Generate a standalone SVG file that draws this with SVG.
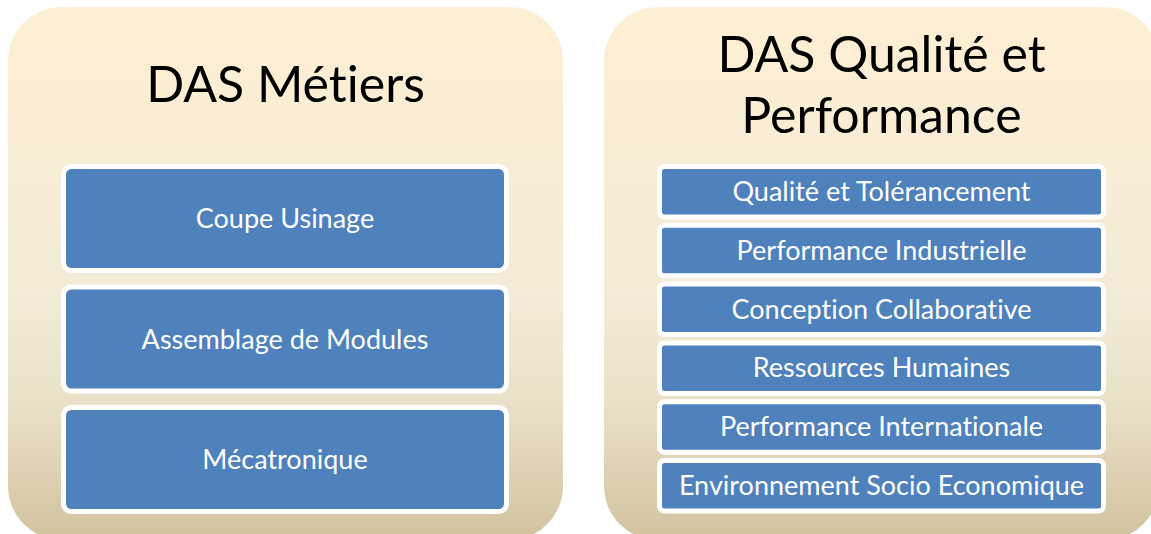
<svg xmlns="http://www.w3.org/2000/svg" width="1151" height="534" viewBox="0 0 1151 534">
  <defs>
    <linearGradient id="panelGrad" x1="0" y1="0" x2="0" y2="1">
      <stop offset="0" stop-color="#FDEFD3"/>
      <stop offset="0.55" stop-color="#F3EBD7"/>
      <stop offset="0.75" stop-color="#E9E0C7"/>
      <stop offset="1" stop-color="#D2C39E"/>
    </linearGradient>
    <style>
      .panel { fill: url(#panelGrad); }
      .box { fill: #4F81BD; stroke: #FFFFFF; stroke-width: 5; }
      .title { font-family: Lato, "Open Sans", sans-serif; font-size: 50px; fill: #000000; text-anchor: middle; font-variant-ligatures: none; font-feature-settings: "liga" 0, "clig" 0, "dlig" 0; }
      .label { font-family: Lato, "Open Sans", sans-serif; font-size: 27px; fill: #FFFFFF; text-anchor: middle; dominant-baseline: central; font-variant-ligatures: none; font-feature-settings: "liga" 0, "clig" 0, "dlig" 0; }
    </style>
  </defs>

  <g id="panel-metiers">
    <rect class="panel" x="8" y="7" width="555" height="533" rx="54" ry="54"/>
    <text class="title" x="285.5" y="102">DAS Métiers</text>
  </g>
  <g id="panel-qualite">
    <rect class="panel" x="604" y="7" width="555" height="533" rx="54" ry="54"/>
    <text class="title" x="881.5" y="72">DAS Qualité et</text>
    <text class="title" x="881.5" y="133">Performance</text>
  </g>

  <g id="node-coupe">
    <rect class="box" x="63.5" y="166.5" width="443" height="104" rx="8"/>
    <text class="label" x="285" y="217.5">Coupe Usinage</text>
  </g>
  <g id="node-assemblage">
    <rect class="box" x="63.5" y="287" width="443" height="104" rx="8"/>
    <text class="label" x="285" y="338">Assemblage de Modules</text>
  </g>
  <g id="node-mecatronique">
    <rect class="box" x="63.5" y="407.5" width="443" height="104" rx="8"/>
    <text class="label" x="285" y="458.5">Mécatronique</text>
  </g>

  <g id="node-qualite">
    <rect class="box" x="659.5" y="166.5" width="444" height="50.5" rx="5"/>
    <text class="label" x="881.5" y="190.5">Qualité et Tolérancement</text>
  </g>
  <g id="node-perf-indus">
    <rect class="box" x="659.5" y="225.3" width="444" height="50.5" rx="5"/>
    <text class="label" x="881.5" y="249.3">Performance Industrielle</text>
  </g>
  <g id="node-conception">
    <rect class="box" x="659.5" y="284.1" width="444" height="50.5" rx="5"/>
    <text class="label" x="881.5" y="308.1">Conception Collaborative</text>
  </g>
  <g id="node-rh">
    <rect class="box" x="659.5" y="342.9" width="444" height="50.5" rx="5"/>
    <text class="label" x="881.5" y="366.9">Ressources Humaines</text>
  </g>
  <g id="node-perf-inter">
    <rect class="box" x="659.5" y="401.7" width="444" height="50.5" rx="5"/>
    <text class="label" x="881.5" y="425.7">Performance Internationale</text>
  </g>
  <g id="node-environnement">
    <rect class="box" x="659.5" y="460.5" width="444" height="50.5" rx="5"/>
    <text class="label" x="881.5" y="484.5">Environnement Socio Economique</text>
  </g>

  <g id="connectors"/>
</svg>
